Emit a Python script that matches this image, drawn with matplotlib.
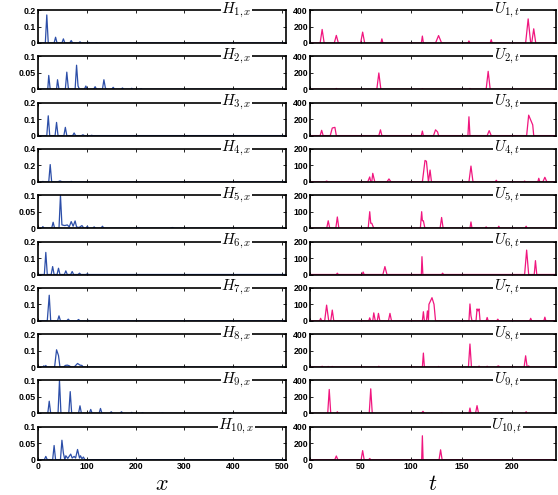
import matplotlib
matplotlib.use("Agg")
import matplotlib.pyplot as plt
from matplotlib.ticker import FixedLocator, FixedFormatter

plt.rcParams['mathtext.fontset'] = 'cm'

# ----------------------------
# Data (vertices, (position, value))
# ----------------------------
H1 = [(0, 0), (15, 0), (18, .17), (21, 0), (33, 0), (36, .035), (39, 0), (49, 0), (52, .025), (55, 0),
      (65, 0), (68, .015), (71, 0), (83, 0), (86, .007), (89, 0), (101, 0), (104, .004), (107, 0),
      (117, 0), (120, .002), (123, 0), (510, 0)]
H2 = [(0, 0), (20, 0), (22, .042), (25, 0), (38, 0), (40, .029), (43, 0), (56, 0), (59, .052), (62, .005),
      (64, 0), (76, 0), (79, .073), (82, .01), (85, 0), (95, 0), (98, .01), (101, 0), (114, 0), (117, .008),
      (120, 0), (132, 0), (135, .029), (138, .004), (141, 0), (151, 0), (154, .006), (157, 0), (170, 0),
      (173, .004), (176, 0), (189, 0), (192, .003), (195, 0), (208, 0), (211, .002), (214, 0), (510, 0)]
H3 = [(0, 0), (18, 0), (21, .12), (24, 0), (35, 0), (38, .08), (41, 0), (53, 0), (56, .05), (59, 0),
      (71, 0), (74, .016), (77, 0), (89, 0), (92, .005), (95, 0), (108, 0), (110, .002), (112, 0), (510, 0)]
H4 = [(0, 0), (8, 0), (10, .006), (12, 0), (22, 0), (25, .21), (28, 0), (40, 0), (45, .012), (50, 0),
      (65, 0), (68, .006), (71, 0), (510, 0)]
H5 = [(0, 0), (8, 0), (10, .005), (12, 0), (28, 0), (31, .018), (34, 0), (43, 0), (46, .1), (49, .01),
      (55, .008), (60, .01), (64, .004), (68, .02), (72, .006), (76, .022), (79, .004), (84, .002),
      (90, .008), (94, 0), (98, 0), (101, .006), (104, 0), (112, 0), (115, .004), (118, 0), (129, 0),
      (132, .006), (135, 0), (200, 0), (205, .002), (210, 0), (270, 0), (275, .002), (280, 0), (510, 0)]
H6 = [(0, 0), (13, 0), (16, .134), (19, 0), (27, 0), (30, .048), (33, 0), (39, 0), (42, .038), (45, 0),
      (54, 0), (57, .022), (60, 0), (67, 0), (70, .018), (73, 0), (82, 0), (85, .008), (88, 0), (98, 0),
      (101, .004), (104, 0), (510, 0)]
H7 = [(0, 0), (19, 0), (23, .155), (26, 0), (40, 0), (43, .03), (46, 0), (59, 0), (62, .01), (65, 0),
      (80, 0), (83, .008), (86, 0), (100, 0), (103, .003), (106, 0), (510, 0)]
H8 = [(0, 0), (10, 0), (12, .008), (14, 0), (16, .01), (18, 0), (34, 0), (38, .105), (42, .07), (45, 0),
      (52, 0), (56, .01), (60, .012), (64, .008), (68, 0), (74, 0), (81, .022), (86, .012), (90, .01),
      (93, 0), (510, 0)]
H9 = [(0, 0), (20, 0), (23, .037), (26, 0), (41, 0), (44, .1), (47, 0), (63, 0), (66, .066), (69, 0),
      (83, 0), (86, .023), (89, 0), (105, 0), (108, .012), (111, 0), (125, 0), (128, .015), (131, 0),
      (147, 0), (150, .005), (153, 0), (168, 0), (171, .005), (174, 0), (189, 0), (192, .003), (195, 0),
      (211, 0), (214, .002), (217, 0), (252, 0), (255, .001), (258, 0), (510, 0)]
H10 = [(0, 0), (13, 0), (16, .01), (19, 0), (30, 0), (33, .043), (36, 0), (46, 0), (49, .059), (52, .02),
       (55, 0), (57, .012), (61, .004), (67, .017), (70, .005), (74, .01), (77, .005), (81, .031),
       (85, .005), (87, .012), (90, .003), (93, .008), (96, 0), (510, 0)]

U1 = [(0, 0), (10, 0), (12, 164), (14, 0), (24, 0), (26, 92), (28, 0), (50, 0), (52, 132), (54, 0),
      (70, 0), (71, 50), (72, 0), (110, 0), (111, 84), (112, 0), (124, 0), (127, 90), (130, 0), (156, 0),
      (157, 25), (158, 0), (178, 0), (179, 40), (180, 0), (213, 0), (215.5, 292), (218, 0), (219, 0),
      (221, 172), (223, 0), (243, 0)]
U2 = [(0, 0), (25, 0), (26, 10), (27, 0), (66, 0), (68, 198), (70, 0), (110, 0), (111, 8), (112, 0),
      (157, 0), (158, 10), (159, 0), (174, 0), (176, 218), (178, 0), (243, 0)]
U3 = [(0, 0), (10, 0), (11.5, 64), (13, 0), (20, 0), (22, 92), (24.6, 100), (26, 0), (68, 0), (69.6, 70),
      (71, 0), (110, 0), (111, 55), (112, 0), (122, 0), (124, 70), (126, 45), (127, 0), (156, 0),
      (157, 228), (158, 0), (175, 0), (177, 60), (179, 0), (214, 0), (216, 248), (220, 130), (221, 0),
      (243, 0)]
U4 = [(0, 0), (15, 0), (16.4, 5), (18, 0), (57, 0), (59, 30), (60, 0), (61, 0), (62, 52), (64, 0),
      (76, 0), (78, 18), (80, 0), (111, 0), (113.6, 130), (115, 125), (117, 0), (118.6, 72), (120, 0),
      (157, 0), (159, 96), (161, 0), (183, 0), (184, 10), (185, 0), (211, 0), (212, 5), (213, 0),
      (225, 0), (226, 22), (227, 0), (230, 0), (232, 28), (234, 0), (243, 0)]
U5 = [(0, 0), (16.5, 0), (18, 45), (19.5, 0), (25.5, 0), (27, 68), (28.5, 0), (57.5, 0), (59, 100),
      (60, 30), (61, 30), (63, 0), (109, 0), (110.3, 100), (111, 45), (112, 45), (113.5, 0), (128.5, 0),
      (130, 65), (131.5, 0), (158, 0), (159, 38), (160, 0), (173, 0), (174, 8), (175, 0), (185.5, 0),
      (186.5, 12), (187.5, 0), (212.5, 0), (213.5, 12), (214.5, 0), (243, 0)]
U6 = [(0, 0), (26, 0), (27, 8), (28, 0), (51.5, 0), (52.5, 15), (53.5, 0), (72, 0), (74, 48), (76, 0),
      (110, 0), (110.6, 108), (111.5, 0), (130, 0), (131, 8), (132, 0), (212, 0), (214, 148), (216, 0),
      (221.5, 0), (222.7, 84), (224, 0), (243, 0)]
U7 = [(0, 0), (9.5, 0), (10.5, 15), (11.5, 0), (14.5, 0), (16.4, 95), (18.5, 0), (20.5, 0), (22, 65),
      (23.5, 0), (58, 0), (59, 18), (60, 0), (62, 0), (63, 48), (64.5, 0), (66.5, 0), (67.6, 45), (69, 0),
      (77.5, 0), (79, 45), (80.5, 0), (111, 0), (112, 55), (113, 0), (115, 0), (116, 60), (117, 0),
      (117.5, 100), (120.5, 140), (122.5, 100), (124, 0), (157, 0), (158, 102), (159, 30), (160, 0),
      (164, 0), (165, 72), (166, 60), (167, 72), (168, 0), (174, 0), (175, 20), (176, 0), (184.5, 0),
      (185.5, 10), (186.5, 0), (217, 0), (218, 15), (219, 0), (231, 0), (232, 22), (233, 0), (243, 0)]
U8 = [(0, 0), (11, 0), (12, 10), (13, 0), (17, 0), (18, 8), (19, 0), (21, 0), (22, 8), (23, 0), (67, 0),
      (68, 10), (69, 0), (111, 0), (112, 170), (113, 0), (126, 0), (127, 8), (128, 0), (156.5, 0),
      (158, 280), (159.5, 0), (166, 0), (167, 12), (168, 0), (174, 0), (175, 10), (176, 0), (184, 0),
      (186, 15), (188, 0), (211.5, 0), (213, 137), (214.5, 0), (215, 0), (216, 15), (217, 0), (243, 0)]
U9 = [(0, 0), (17.5, 0), (19, 290), (20.5, 0), (26, 0), (27, 20), (28, 0), (58.5, 0), (60, 298),
      (61.5, 0), (110, 0), (111.6, 25), (113, 0), (129, 0), (130, 8), (131, 0), (157, 0), (158, 65),
      (159, 0), (163.5, 0), (165, 94), (166.5, 0), (212.5, 0), (213.5, 20), (214.5, 0), (243, 0)]
U10 = [(0, 0), (24.5, 0), (26, 45), (27.5, 0), (50.5, 0), (52, 110), (53.5, 0), (58, 0), (59, 15),
       (60, 0), (110.3, 0), (111, 290), (111.7, 0), (127.5, 0), (129, 120), (130.5, 0), (243, 0)]

H_SERIES = [H1, H2, H3, H4, H5, H6, H7, H8, H9, H10]
U_SERIES = [U1, U2, U3, U4, U5, U6, U7, U8, U9, U10]
H_YMAX = [0.2, 0.1, 0.2, 0.4, 0.1, 0.2, 0.2, 0.2, 0.1, 0.1]
U_YMAX = [400, 400, 400, 200, 200, 200, 200, 400, 400, 400]
H_XTICKS = [0, 100, 200, 300, 400, 500]
U_XTICKS = [0, 50, 100, 150, 200]
H_XMAX = 508
U_XMAX = 243

# ----------------------------
# Look
# ----------------------------
FIG_W, FIG_H = 558, 495
LEFT_X0, LEFT_X1 = 38, 286
RIGHT_X0, RIGHT_X1 = 310, 556
ROW_TOP0 = 10
ROW_PITCH = 46.3
ROW_H = 33
H_COLOR = '#2c4ea8'
U_COLOR = '#f0167f'
LINE_W = 0.9
SPINE_W = 1.2
TICK_FONT = dict(family='Liberation Sans', weight='bold', size=6.3)
TITLE_SIZE = 11


def fmt(v):
    return ('%g' % v)


def add_panel(rect, data, ymax, xmax, xticks, color, title, show_xlabels):
    ax = fig.add_axes(rect)
    xs = [p[0] for p in data]
    ys = [p[1] for p in data]
    ax.axhline(0, color='black', lw=1.0, zorder=1)
    ax.plot(xs, ys, color=color, lw=LINE_W, zorder=2)
    ax.set_xlim(0, xmax)
    ax.set_ylim(0, ymax)
    yt = [0, ymax / 2, ymax]
    ax.yaxis.set_major_locator(FixedLocator(yt))
    ax.yaxis.set_major_formatter(FixedFormatter([fmt(v) for v in yt]))
    ax.xaxis.set_major_locator(FixedLocator(xticks))
    ax.xaxis.set_major_formatter(FixedFormatter([fmt(v) for v in xticks]))
    ax.tick_params(direction='in', length=2.5, width=0.6, top=True, right=True, pad=1.5)
    if not show_xlabels:
        ax.tick_params(labelbottom=False)
    for lab in ax.get_xticklabels() + ax.get_yticklabels():
        lab.set_fontfamily(TICK_FONT['family'])
        lab.set_fontweight(TICK_FONT['weight'])
        lab.set_fontsize(TICK_FONT['size'])
    for sp in ax.spines.values():
        sp.set_linewidth(SPINE_W)
    ax.text(0.80, 1.0, title, transform=ax.transAxes, ha='center', va='center',
            fontsize=TITLE_SIZE, bbox=dict(fc='white', ec='none', pad=0.3), zorder=5)
    return ax


fig = plt.figure(figsize=(FIG_W / 100, FIG_H / 100), dpi=100)

for i in range(10):
    top = ROW_TOP0 + ROW_PITCH * i
    bottom = 1 - (top + ROW_H) / FIG_H
    h = ROW_H / FIG_H
    last = (i == 9)
    add_panel([LEFT_X0 / FIG_W, bottom, (LEFT_X1 - LEFT_X0) / FIG_W, h],
              H_SERIES[i], H_YMAX[i], H_XMAX, H_XTICKS, H_COLOR,
              r'$H_{%d,x}$' % (i + 1), last)
    add_panel([RIGHT_X0 / FIG_W, bottom, (RIGHT_X1 - RIGHT_X0) / FIG_W, h],
              U_SERIES[i], U_YMAX[i], U_XMAX, U_XTICKS, U_COLOR,
              r'$U_{%d,t}$' % (i + 1), last)

fig.text(162 / FIG_W, 1 - 484 / FIG_H, r'$x$', ha='center', va='center', fontsize=16)
fig.text(433 / FIG_W, 1 - 484 / FIG_H, r'$t$', ha='center', va='center', fontsize=16)

fig.savefig('out.png', dpi=100)
